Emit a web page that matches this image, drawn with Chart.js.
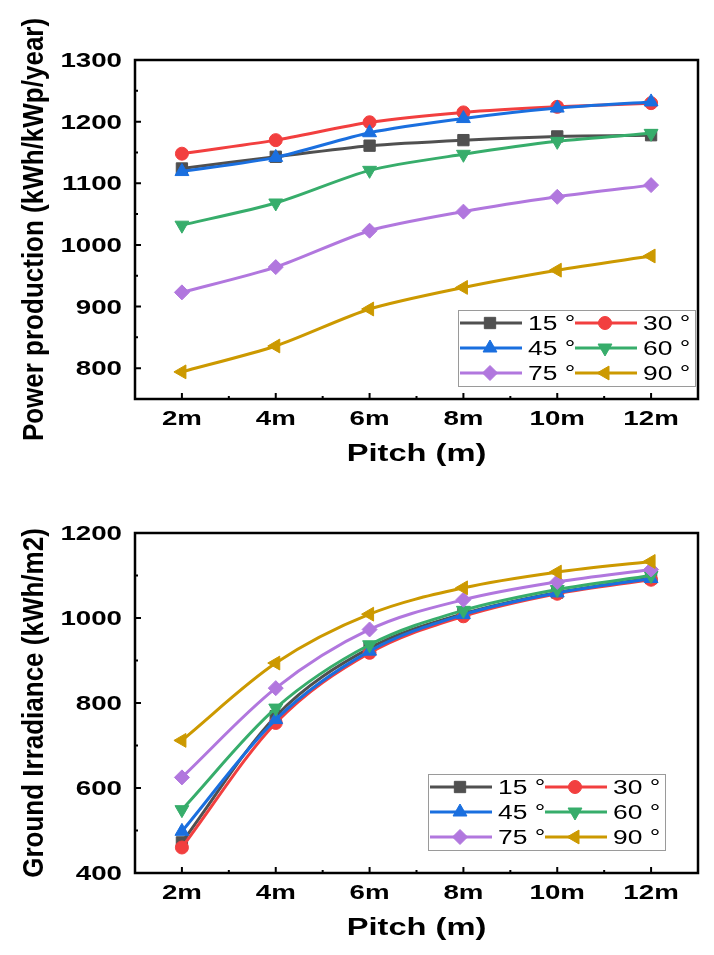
<!DOCTYPE html>
<html>
<head>
<meta charset="utf-8">
<script src="https://cdn.jsdelivr.net/npm/chart.js@4.4.1/dist/chart.umd.min.js"></script>
<style>
  body { margin: 0; background: #fff; }
  .box { position: absolute; left: 0; width: 714px; }
</style>
</head>
<body>
<div class="box" style="top:0;height:477px"><canvas id="powerChart" width="714" height="477"></canvas></div>
<div class="box" style="top:477px;height:478px"><canvas id="groundChart" width="714" height="478"></canvas></div>
<script>
// pitch between rows
const pitch = [2, 4, 6, 8, 10, 12];
const pitchLabels = ['2m', '4m', '6m', '8m', '10m', '12m'];
const tiltLabels = ['15 °', '30 °', '45 °', '60 °', '75 °', '90 °'];

// Power production (kWh/kWp/year)
const power15 = [1124, 1143, 1161, 1170, 1176, 1178];
const power30 = [1148, 1170, 1199, 1215, 1224, 1230];
const power45 = [1119, 1142, 1182, 1205, 1222, 1232];
const power60 = [1032, 1068, 1121, 1147, 1168, 1181];
const power75 = [923, 964, 1023, 1054, 1078, 1097];
const power90 = [794, 836, 896, 931, 959, 982];
const powerTicks = [800, 900, 1000, 1100, 1200, 1300];

// Ground irradiance (kWh/m2)
const ground15 = [472, 769, 929, 1010, 1060, 1094];
const ground30 = [460, 753, 918, 1004, 1057, 1090];
const ground45 = [498, 761, 922, 1008, 1059, 1093];
const ground60 = [549, 788, 937, 1018, 1067, 1100];
const ground75 = [625, 835, 973, 1043, 1085, 1114];
const ground90 = [712, 894, 1009, 1071, 1108, 1133];
const groundTicks = [400, 600, 800, 1000, 1200];

const colors = ['#505050', '#f23f3f', '#1a6fdf', '#37ad6b', '#b177de', '#cc9900'];
const markers = [
    { style: 'rect', rot: 0, r: 8 },
    { style: 'circle', rot: 0, r: 6.5 },
    { style: 'triangle', rot: 0, r: 8 },
    { style: 'triangle', rot: 180, r: 8 },
    { style: 'rectRot', rot: 0, r: 7.5 },
    { style: 'triangle', rot: 270, r: 8 }
];

const FONT = '"Liberation Sans", Arial, sans-serif';

// text stretched sideways like in the original figure
function wideText(ctx, text, x, y, sx) {
    ctx.save();
    ctx.translate(x, y);
    ctx.scale(sx, 1);
    ctx.fillText(text, 0, 0);
    ctx.restore();
}

// frame, inward ticks, labels and the inner legend
const framePlugin = {
    id: 'frame',
    afterDraw(chart, args, o) {
        const { ctx, chartArea: a } = chart;
        const x = chart.scales.x, y = chart.scales.y;
        ctx.save();
        ctx.strokeStyle = '#000';
        ctx.fillStyle = '#000';
        ctx.lineWidth = 2.5;
        ctx.strokeRect(a.left, a.top, a.right - a.left, a.bottom - a.top);

        ctx.lineWidth = 2;
        ctx.beginPath();
        o.yTicks.forEach((v, i) => {
            const py = y.getPixelForValue(v);
            ctx.moveTo(a.left, py); ctx.lineTo(a.left + 6, py);
            if (i > 0) {
                const pm = y.getPixelForValue((v + o.yTicks[i - 1]) / 2);
                ctx.moveTo(a.left, pm); ctx.lineTo(a.left + 3, pm);
            }
        });
        pitch.forEach((v, i) => {
            const px = x.getPixelForValue(v);
            ctx.moveTo(px, a.bottom); ctx.lineTo(px, a.bottom - 6);
            if (i > 0) {
                const pm = x.getPixelForValue((v + pitch[i - 1]) / 2);
                ctx.moveTo(pm, a.bottom); ctx.lineTo(pm, a.bottom - 3);
            }
        });
        ctx.stroke();

        // tick labels
        ctx.font = 'bold 19.5px ' + FONT;
        ctx.textBaseline = 'alphabetic';
        ctx.textAlign = 'right';
        o.yTicks.forEach(v => wideText(ctx, String(v), a.left - 13, y.getPixelForValue(v) + 7, 1.42));
        ctx.textAlign = 'center';
        pitch.forEach((v, i) => wideText(ctx, pitchLabels[i], x.getPixelForValue(v), a.bottom + 26, 1.42));

        // axis titles
        ctx.font = 'bold 23px ' + FONT;
        wideText(ctx, 'Pitch (m)', (a.left + a.right) / 2, a.bottom + 62, 1.42);
        ctx.save();
        ctx.font = 'bold 26px ' + FONT;
        ctx.translate(35, (a.top + a.bottom) / 2);
        ctx.rotate(-Math.PI / 2);
        ctx.scale(1, 1.12);
        ctx.textBaseline = 'middle';
        ctx.fillText(o.yTitle, 0, 0);
        ctx.restore();

        // legend box, 2 columns x 3 rows
        const bx = a.right - o.legendRight - 237, by = a.bottom - o.legendBottom;
        ctx.fillStyle = '#fff';
        ctx.fillRect(bx, by, 237, 76);
        ctx.strokeStyle = '#9a9a9a';
        ctx.lineWidth = 1;
        ctx.strokeRect(bx + 0.5, by + 0.5, 237, 76);
        ctx.font = '20px ' + FONT;
        ctx.textAlign = 'left';
        chart.data.datasets.forEach((ds, i) => {
            const cx = bx + (i % 2) * 115, cy = by + 13 + Math.floor(i / 2) * 25;
            ctx.strokeStyle = ds.borderColor;
            ctx.fillStyle = ds.borderColor;
            ctx.lineWidth = 3;
            ctx.beginPath();
            ctx.moveTo(cx + 2, cy); ctx.lineTo(cx + 64, cy);
            ctx.stroke();
            ctx.lineWidth = 1;
            Chart.helpers.drawPoint(ctx, {
                pointStyle: ds.pointStyle, rotation: ds.pointRotation,
                radius: ds.pointRadius, borderWidth: 1
            }, cx + 32, cy);
            ctx.fillStyle = '#000';
            wideText(ctx, ds.label, cx + 70, cy + 7, 1.32);
        });
        ctx.restore();
    }
};

function makeSets(series, tension, mode) {
    return series.map((vals, i) => ({
        label: tiltLabels[i],
        data: vals.map((v, j) => ({ x: pitch[j], y: v })),
        borderColor: colors[i],
        backgroundColor: colors[i],
        pointBackgroundColor: colors[i],
        pointBorderColor: colors[i],
        borderWidth: 3,
        pointStyle: markers[i].style,
        pointRotation: markers[i].rot,
        pointRadius: markers[i].r,
        pointBorderWidth: 1,
        tension: tension,
        cubicInterpolationMode: mode,
        order: 6 - i,
        fill: false
    }));
}

function makeChart(id, series, tension, mode, yMin, yMax, pad, extra) {
    return new Chart(document.getElementById(id), {
        type: 'line',
        data: { datasets: makeSets(series, tension, mode) },
        options: {
            responsive: false,
            animation: false,
            layout: { padding: pad },
            scales: {
                x: { type: 'linear', min: 1, max: 13, display: false },
                y: { min: yMin, max: yMax, display: false }
            },
            plugins: {
                legend: { display: false },
                tooltip: { enabled: false },
                frame: extra
            }
        },
        plugins: [framePlugin]
    });
}

makeChart('powerChart',
    [power15, power30, power45, power60, power75, power90], 0.25, 'default', 750, 1300,
    { left: 135, right: 16, top: 60, bottom: 78 },
    { yTicks: powerTicks, yTitle: 'Power production (kWh/kWp/year)', legendRight: 3, legendBottom: 89 });

makeChart('groundChart',
    [ground15, ground30, ground45, ground60, ground75, ground90], 0.4, 'monotone', 400, 1200,
    { left: 135, right: 16, top: 56, bottom: 82 },
    { yTicks: groundTicks, yTitle: 'Ground Irradiance (kWh/m2)', legendRight: 33, legendBottom: 99 });
</script>
</body>
</html>
